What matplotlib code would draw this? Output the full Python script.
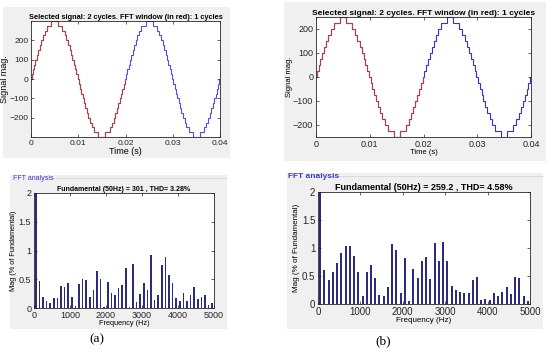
import numpy as np
import matplotlib
matplotlib.use("Agg")
from matplotlib import pyplot as plt
from matplotlib.patches import Rectangle

plt.rcParams['font.family'] = ['Liberation Sans', 'DejaVu Sans']

# staircase waveforms: switching instants (ms) in the first quarter cycle and level steps
switch_a_ms = [0.13, 0.40, 0.67, 0.94, 1.22, 1.51, 1.82, 2.14, 2.50, 2.90, 3.37, 4.25]
levels_a = [25, 50, 75, 100, 125, 150, 175, 200, 225, 250, 275, 300]
switch_b_ms = [0.16, 0.49, 0.82, 1.16, 1.52, 1.90, 2.31, 2.77, 3.34, 4.45]
levels_b = [25, 50, 75, 100, 125, 150, 175, 200, 225, 250]

# harmonic spectrum (% of fundamental), odd harmonics 50..4950 Hz
harm_freq = [50 + 100 * i for i in range(50)]
mag_a = [100, 0.47, 0.20, 0.12, 0.08, 0.17, 0.17, 0.39, 0.36, 0.43,
         0.19, 0.04, 0.42, 0.50, 0.48, 0.19, 0.32, 0.65, 0.50, 0.02,
         0.45, 0.26, 0.23, 0.35, 0.40, 0.70, 0.02, 0.76, 0.10, 0.25,
         0.44, 0.31, 0.92, 0.14, 0.23, 0.74, 0.89, 0.58, 0.43, 0.18,
         0.13, 0.26, 0.12, 0.23, 0.37, 0.15, 0.19, 0.22, 0.05, 0.09]
mag_b = [100, 0.60, 0.42, 0.57, 0.73, 0.91, 1.04, 1.04, 0.86, 0.57,
         0.15, 0.58, 0.70, 0.47, 0.16, 0.15, 0.31, 1.07, 0.96, 0.19,
         0.82, 0.05, 0.62, 0.46, 0.76, 0.84, 0.45, 1.09, 0.77, 1.10,
         0.77, 0.32, 0.25, 0.22, 0.20, 0.19, 0.42, 0.48, 0.07, 0.09,
         0.07, 0.19, 0.14, 0.22, 0.30, 0.18, 0.49, 0.46, 0.15, 0.06]

titles_fft = ["Fundamental (50Hz) = 301 , THD= 3.28%",
              "Fundamental (50Hz) = 259.2 , THD= 4.58%"]
title_sig = "Selected signal: 2 cycles. FFT window (in red): 1 cycles"

W, H = 550, 352
fig = plt.figure(figsize=(W / 100, H / 100), dpi=100)
fig.patch.set_facecolor("white")


def px_axes(x0, y0, x1, y1):
    ax = fig.add_axes([x0 / W, 1 - y1 / H, (x1 - x0) / W, (y1 - y0) / H])
    ax.set_zorder(2)
    return ax


def panel(x0, y0, x1, y1):
    fig.add_artist(Rectangle((x0 / W, 1 - y1 / H), (x1 - x0) / W, (y1 - y0) / H,
                             transform=fig.transFigure, facecolor="#f0f0f0",
                             edgecolor="none", zorder=-5))


def staircase(switch_ms, levels):
    t = [s / 1000.0 for s in switch_ms]
    edges = [0.0] + t + [0.01 - s for s in reversed(t)] + [0.01]
    vals = [0] + list(levels) + list(reversed(levels[:-1])) + [0]
    # negative half cycle
    edges2 = edges[:-1] + [e + 0.01 for e in edges]
    vals2 = vals + [-v for v in vals]
    return np.array(edges2), np.array(vals2)


def style(ax, fs):
    ax.tick_params(direction="in", length=2, width=0.5, labelsize=fs,
                   top=True, right=True, pad=2, colors="#262626")
    for s in ax.spines.values():
        s.set_linewidth(0.6)
        s.set_color("#262626")


def signal_ax(box, sw, lv, ylim, yticks, fs, title_fs, lab_fs, blue):
    ax = px_axes(*box)
    e, v = staircase(sw, lv)
    e_full = np.concatenate([e[:-1], e + 0.02])
    v_full = np.concatenate([v, v])
    ax.stairs(v_full, e_full, color=blue, lw=0.8)
    ax.stairs(v, e, color="#a8483c", lw=0.8)
    ax.set_xlim(0, 0.04)
    ax.set_ylim(-ylim, ylim)
    ax.set_xticks([0, 0.01, 0.02, 0.03, 0.04])
    ax.set_xticklabels(["0", "0.01", "0.02", "0.03", "0.04"])
    ax.set_yticks(yticks)
    style(ax, fs)
    ax.set_title(title_sig, fontsize=title_fs, fontweight="bold", pad=1.5)
    ax.set_xlabel("Time (s)", fontsize=lab_fs, labelpad=0)
    ax.set_ylabel("Signal mag.", fontsize=lab_fs, labelpad=0)
    return ax


def fft_ax(box, mags, title, fs, title_fs, lab_fs):
    ax = px_axes(*box)
    ax.bar(harm_freq, mags, width=48, color="#2b2b80", linewidth=0)
    ax.set_xlim(0, 5000)
    ax.set_ylim(0, 2)
    ax.set_xticks([0, 1000, 2000, 3000, 4000, 5000])
    ax.set_yticks([0, 0.5, 1, 1.5, 2])
    ax.set_yticklabels(["0", "0.5", "1", "1.5", "2"])
    style(ax, fs)
    ax.set_title(title, fontsize=title_fs, fontweight="bold", pad=1.5)
    ax.set_xlabel("Frequency (Hz)", fontsize=lab_fs, labelpad=0)
    ax.set_ylabel("Mag (% of Fundamental)", fontsize=lab_fs, labelpad=1)
    return ax


# grey panels
panel(3, 7, 230, 158)
panel(284, 2, 546, 161)
panel(10, 175, 227, 329)
panel(287, 173, 543, 329)

signal_ax((31, 21, 220, 137), switch_a_ms, levels_a, 300, [-200, -100, 0, 100, 200],
          6, 5.3, 6.5, "#5050e0")
signal_ax((316, 17, 531, 137), switch_b_ms, levels_b, 250, [-200, -100, 0, 100, 200],
          6.5, 6, 5.5, "#3030e0")
fft_ax((34, 193, 214, 308), mag_a, titles_fft[0], 6.5, 5, 5.3)
fft_ax((318, 192, 530, 304), mag_b, titles_fft[1], 7, 6.5, 5.8)

# "FFT analysis" panel captions
for x, y, x_end, fs in [(13, 178, 227, 5), (288, 176, 543, 6)]:
    fig.text(x / W, 1 - y / H, "FFT analysis", fontsize=fs, color="#3a3ac8",
             va="center", ha="left", fontweight="bold" if fs > 5 else "normal")
    fig.add_artist(plt.Line2D([(x + 38) / W, x_end / W], [1 - y / H, 1 - y / H],
                              color="#d8d8d8", lw=0.6, transform=fig.transFigure))

fig.text(97 / W, 1 - 339 / H, "(a)", fontsize=9.5, family="Liberation Serif",
         ha="center", va="center")
fig.text(383 / W, 1 - 341 / H, "(b)", fontsize=9.5, family="Liberation Serif",
         ha="center", va="center")

fig.savefig("out.png", dpi=100)
